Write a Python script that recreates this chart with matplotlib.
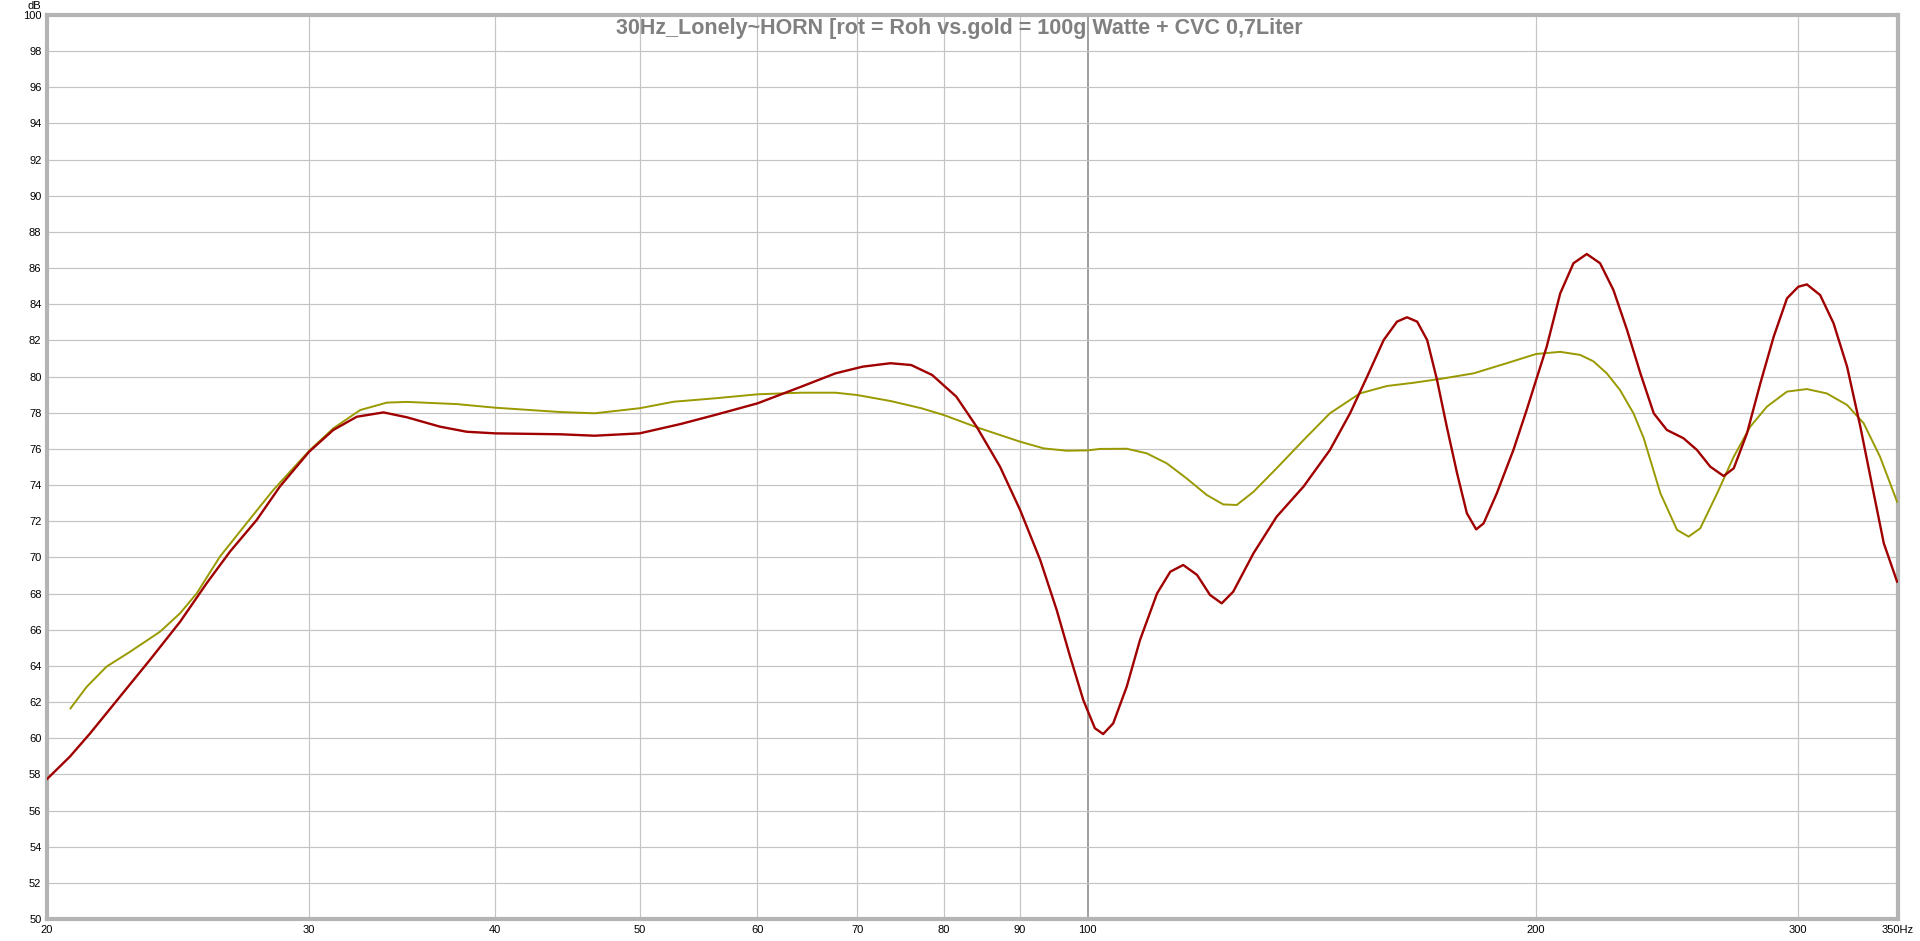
import numpy as np
import matplotlib
matplotlib.use("Agg")
import matplotlib.pyplot as plt
from matplotlib.ticker import FixedLocator, NullLocator, NullFormatter

title = "30Hz_Lonely~HORN [rot = Roh vs.gold = 100g Watte + CVC 0,7Liter"

red_f = [20.0, 20.72, 21.38, 22.39, 23.45, 24.57, 25.60, 26.54, 27.66, 28.67, 30.0, 31.14, 32.29,
         33.65, 34.89, 36.73, 38.27, 40.0, 44.22, 46.64, 50.0, 53.29, 56.2, 60.0, 64.19, 67.69,
         70.6, 73.7, 76.1, 78.6, 81.6, 84.2, 87.3, 90.06, 92.9, 95.3, 97.3, 99.3, 101.1, 102.4,
         104.0, 106.2, 108.4, 111.3, 113.6, 115.9, 118.4, 120.8, 123.0, 125.2, 129.2, 133.9,
         139.6, 145.4, 150.0, 154.0, 158.0, 161.3, 163.8, 166.4, 169.0, 171.6, 174.2, 177.0,
         179.7, 182.3, 184.4, 188.2, 193.1, 197.1, 200.0, 203.3, 207.6, 211.9, 216.3, 220.8,
         225.4, 230.2, 235.0, 239.9, 244.8, 251.2, 256.5, 261.8, 267.3, 271.5, 277.1, 282.9,
         288.8, 294.8, 300.0, 304.0, 310.3, 316.8, 323.5, 330.2, 337.1, 342.4, 349.5]
red_db = [57.74, 58.98, 60.27, 62.30, 64.33, 66.44, 68.57, 70.32, 72.07, 73.92, 75.85, 77.05, 77.78,
          78.02, 77.75, 77.23, 76.95, 76.86, 76.81, 76.73, 76.86, 77.38, 77.88, 78.52, 79.44, 80.18,
          80.55, 80.74, 80.64, 80.09, 78.89, 77.23, 75.02, 72.62, 69.86, 67.09, 64.51, 62.11, 60.55, 60.23,
          60.82, 62.85, 65.43, 68.01, 69.21, 69.58, 69.03, 67.92, 67.46, 68.10, 70.23, 72.25,
          73.92, 75.94, 77.97, 79.99, 82.02, 83.04, 83.28, 83.04, 82.02, 79.81, 77.23, 74.65,
          72.44, 71.55, 71.88, 73.54, 75.94, 78.15, 79.81, 81.65, 84.60, 86.27, 86.78, 86.27,
          84.79, 82.58, 80.18, 77.97, 77.05, 76.59, 75.94, 75.02, 74.50, 74.93, 76.86, 79.63,
          82.21, 84.33, 84.97, 85.10, 84.51, 82.95, 80.55, 77.23, 73.54, 70.78, 68.66]

gold_f = [20.74, 21.27, 21.93, 22.74, 23.82, 24.57, 25.21, 26.13, 27.23, 28.38, 30.0, 31.14, 32.46,
          33.82, 34.89, 37.68, 40.0, 44.22, 46.64, 50.0, 52.7, 56.2, 60.0, 64.19, 67.69, 70.0,
          73.7, 77.3, 80.0, 84.2, 87.3, 90.06, 93.4, 96.8, 100.0, 101.9, 106.2, 109.5, 113.0,
          116.5, 120.2, 123.3, 125.9, 129.2, 133.9, 139.6, 145.4, 152.3, 158.8, 165.5, 172.4,
          181.6, 191.1, 200.0, 207.6, 214.1, 218.5, 223.1, 227.7, 232.5, 236.2, 242.4, 248.7,
          253.2, 257.8, 264.6, 271.5, 278.5, 285.8, 294.8, 304.0, 313.5, 323.5, 331.9, 340.4, 349.5]
gold_db = [61.65, 62.85, 63.96, 64.78, 65.89, 66.91, 68.01, 70.04, 71.89, 73.73, 75.90, 77.14, 78.15,
           78.56, 78.60, 78.48, 78.28, 78.04, 77.97, 78.25, 78.61, 78.80, 79.02, 79.11, 79.11, 78.98,
           78.65, 78.25, 77.88, 77.20, 76.77, 76.40, 76.03, 75.90, 75.92, 76.00, 76.01, 75.76, 75.20,
           74.37, 73.45, 72.93, 72.90, 73.63, 74.93, 76.49, 77.97, 79.07, 79.48, 79.66, 79.87,
           80.18, 80.74, 81.25, 81.37, 81.20, 80.85, 80.18, 79.26, 77.97, 76.60, 73.54, 71.52,
           71.15, 71.61, 73.54, 75.57, 77.23, 78.34, 79.17, 79.31, 79.07, 78.43, 77.42, 75.57, 73.08]

x_ticks = [20, 30, 40, 50, 60, 70, 80, 90, 100, 200, 300, 350]
x_tick_labels = ["20", "30", "40", "50", "60", "70", "80", "90", "100", "200", "300", "350Hz"]
y_ticks = list(range(50, 101, 2))

fig = plt.figure(figsize=(19.2, 9.41), dpi=100)
fig.patch.set_facecolor("white")
ax = fig.add_axes([47/1920, 1-919/941, (1898-47)/1920, (919-15)/941])
ax.set_xscale("log")
ax.set_xlim(20, 350)
ax.set_ylim(50, 100)

for f in x_ticks[1:-1]:
    ax.axvline(f, color="#858585" if f == 100 else "#c4c4c4", lw=1.1 if f == 100 else 0.85, zorder=1)
for y in y_ticks[1:-1]:
    ax.axhline(y, color="#c4c4c4", lw=0.85, zorder=1)

ax.plot(gold_f, gold_db, color="#999900", lw=1.4, zorder=3, solid_joinstyle="round")
ax.plot(red_f, red_db, color="#a00000", lw=1.7, zorder=4, solid_joinstyle="round")

ax.xaxis.set_major_locator(FixedLocator(x_ticks))
ax.xaxis.set_minor_locator(NullLocator())
ax.xaxis.set_minor_formatter(NullFormatter())
ax.set_xticklabels(x_tick_labels)
ax.set_yticks(y_ticks)
ax.set_yticklabels([str(v) for v in y_ticks])
ax.tick_params(axis="both", length=0, labelsize=8, colors="black")
ax.tick_params(axis="x", pad=4)
ax.tick_params(axis="y", pad=4)
for lab in ax.get_xticklabels() + ax.get_yticklabels():
    lab.set_family(["Liberation Sans", "DejaVu Sans"])

for s in ax.spines.values():
    s.set_color("#b4b4b4")
    s.set_linewidth(3)

fig.text(41/1920, 1-6/941, "dB", ha="right", va="center", fontsize=8,
         family=["Liberation Sans", "DejaVu Sans"])

fig.text(0.4995, 1-18/941, title, ha="center", va="top",
         fontsize=15.5, fontweight="bold", color="#808080",
         family=["Liberation Sans", "DejaVu Sans"], zorder=5)

fig.savefig("out.png", dpi=100, facecolor="white")
